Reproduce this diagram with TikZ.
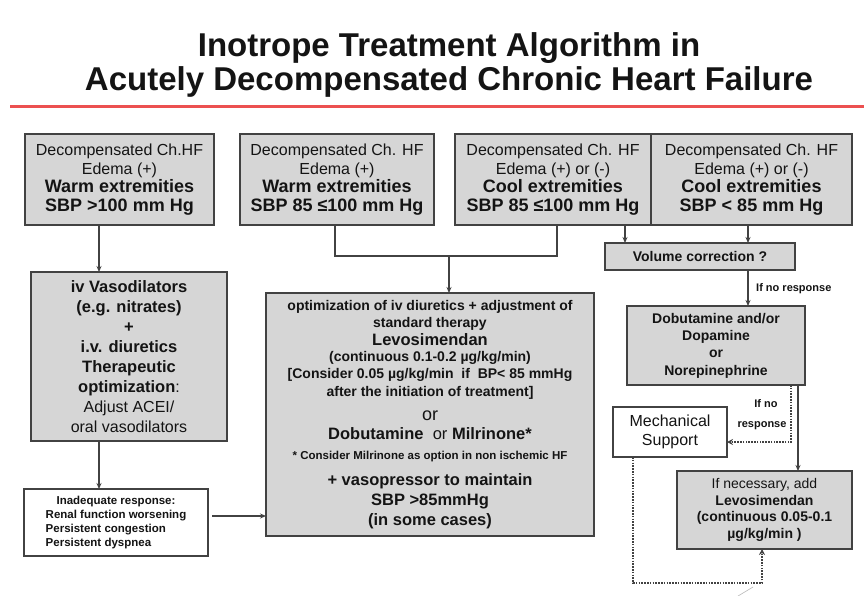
\documentclass[tikz,border=0pt]{standalone}
\usepackage{fontspec}
\setmainfont{Liberation Sans}
\usetikzlibrary{arrows.meta}
\newcommand\myfs[2]{\fontsize{#1}{#2}\selectfont}
\definecolor{boxfill}{RGB}{214,214,214}
\definecolor{boxline}{RGB}{66,66,66}
\definecolor{titlered}{RGB}{236,80,80}
\definecolor{ink}{RGB}{20,20,20}
\begin{document}
\begin{tikzpicture}[x=1pt,y=-1pt,
  box/.style={draw=boxline, line width=1.5pt, fill=boxfill, anchor=north west,
              inner sep=0pt, outer sep=0pt, align=center, text=ink},
  wbox/.style={box, fill=white, line width=1.2pt},
  conn/.style={draw=boxline, line width=1.3pt},
  arr/.style={conn, -{Stealth[length=6pt,width=5pt]}},
  dots/.style={draw=boxline, line width=2.2pt, dash pattern=on 1.6pt off 1.2pt},
  darr/.style={dots, -{Stealth[length=6pt,width=6pt]}},
  lbl/.style={font=\bfseries\myfs{11}{13}, text=ink, inner sep=0pt}]
\useasboundingbox (0,0) rectangle (864,596);
\fill[white] (0,0) rectangle (864,596);

% title
\node[font=\bfseries\myfs{33}{38}, text=ink, anchor=base, inner sep=0pt] (t1) at (449,57) {Inotrope Treatment Algorithm in};
\node[font=\bfseries\myfs{33}{38}, text=ink, anchor=base, inner sep=0pt] (t2) at (449,91) {Acutely Decompensated Chronic Heart Failure};
\draw[titlered, line width=3pt] (10,107) -- (864,107);

% top row
\node[box, minimum width=189pt, minimum height=91pt, font=\myfs{16}{18.5}] (b1) at (25,134)
  {Decompensated Ch.HF\\ Edema (+)\\ {\bfseries\myfs{18}{18.5}Warm extremities}\\ {\bfseries\myfs{18}{18.5}SBP >100 mm Hg}};
\node[box, minimum width=194pt, minimum height=91pt, font=\myfs{16}{18.5}] (b2) at (240,134)
  {Decompensated Ch. HF\\ Edema (+)\\ {\bfseries\myfs{18}{18.5}Warm extremities}\\ {\bfseries\myfs{18}{18.5}SBP 85 ≤100 mm Hg}};
\node[box, minimum width=196pt, minimum height=91pt, font=\myfs{16}{18.5}] (b3) at (455,134)
  {Decompensated Ch. HF\\ Edema (+) or (-)\\ {\bfseries\myfs{18}{18.5}Cool extremities}\\ {\bfseries\myfs{18}{18.5}SBP 85 ≤100 mm Hg}};
\node[box, minimum width=201pt, minimum height=91pt, font=\myfs{16}{18.5}] (b4) at (651,134)
  {Decompensated Ch. HF\\ Edema (+) or (-)\\ {\bfseries\myfs{18}{18.5}Cool extremities}\\ {\bfseries\myfs{18}{18.5}SBP < 85 mm Hg}};

% left column
\node[box, minimum width=196pt, minimum height=169pt, font=\myfs{16}{20}] (vaso) at (31,272)
  {{\bfseries\myfs{16.5}{20}iv Vasodilators}\\ {\bfseries\myfs{16.5}{20}(e.g. nitrates)}\\ {\bfseries\myfs{16.5}{20}+}\\
   {\bfseries\myfs{16.5}{20}i.v. diuretics}\\ {\bfseries\myfs{16.5}{20}Therapeutic}\\ {\bfseries\myfs{16.5}{20}optimization}:\\
   Adjust ACEI/\\ oral vasodilators};
\node[wbox, minimum width=184pt, minimum height=67pt, font=\bfseries\myfs{11.5}{14}] (inad) at (24,489)
  {\begin{tabular}{@{}l@{}}\multicolumn{1}{@{}c@{}}{Inadequate response:}\\ Renal function worsening\\ Persistent congestion\\ Persistent dyspnea\end{tabular}};

% main box
\node[box, minimum width=328pt, minimum height=243pt, font=\bfseries\myfs{14}{17}] (main) at (266,293)
  {optimization of iv diuretics + adjustment of\\
   standard therapy\\[1pt]
   {\myfs{16.5}{17}Levosimendan}\\[-1pt]
   (continuous 0.1-0.2 µg/kg/min)\\
   {[Consider 0.05 µg/kg/min\ \ if\ \ BP< 85 mmHg}\\[1pt]
   after the initiation of treatment]\\[7pt]
   {\mdseries\myfs{18}{17}or}\\[2pt]
   {\myfs{16.5}{17}Dobutamine\ \ {\mdseries or} Milrinone*}\\[3pt]
   {\myfs{11.5}{17}* Consider Milrinone as option in non ischemic HF}\\[9pt]
   {\myfs{16.5}{17}+ vasopressor to maintain}\\[3pt]
   {\myfs{16.5}{17}SBP >85mmHg}\\[3pt]
   {\myfs{16.5}{17}(in some cases)}};

% right column
\node[box, minimum width=190pt, minimum height=27pt, font=\bfseries\myfs{14}{17}] (vol) at (605,243) {Volume correction ?};
\node[box, minimum width=178pt, minimum height=79pt, font=\bfseries\myfs{14}{17.3}] (dob) at (627,306)
  {Dobutamine and/or\\ Dopamine\\ or\\ Norepinephrine};
\node[wbox, minimum width=114pt, minimum height=50pt, font=\myfs{16}{19}] (mech) at (613,407) {Mechanical\\ Support};
\node[box, line width=1.8pt, minimum width=175pt, minimum height=78pt, font=\myfs{14}{16.8}] (levo) at (677,471)
  {If necessary, add\\ {\bfseries Levosimendan}\\ {\bfseries (continuous 0.05-0.1}\\ {\bfseries µg/kg/min )}};

% connectors, left
\coordinate (x1) at (99,0);
\draw[arr] (b1.south -| x1) -- (vaso.north -| x1);
\draw[arr] (vaso.south -| x1) -- (inad.north -| x1);
\coordinate (y1) at (0,516);
\draw[arr, shorten <=4pt] (inad.east |- y1) -- (main.west |- y1);

% bracket to main box
\coordinate (bl) at (335,256);
\coordinate (br) at (557,256);
\coordinate (bm) at (449,256);
\draw[conn] (b2.south -| bl) -- (bl) -- (br) -- (b3.south -| br);
\draw[arr] (bm) -- (main.north -| bm);

% right column connectors
\coordinate (x3) at (625,0);
\coordinate (x4) at (748,0);
\draw[arr] (b3.south -| x3) -- (vol.north -| x3);
\draw[arr] (b4.south -| x4) -- (vol.north -| x4);
\draw[arr] (vol.south -| x4) -- (dob.north -| x4);
\node[lbl, anchor=west] (lnr) at (756,289) {If no response};

\coordinate (x5) at (798,0);
\draw[arr] (dob.south -| x5) -- (levo.north -| x5);
\coordinate (d1) at (791,442);
\draw[darr] (dob.south -| d1) -- (d1) -- (mech.east |- d1);
\node[lbl] (lno) at (766,404) {If no};
\node[lbl] (lresp) at (762,426) {response};

\coordinate (d2) at (633,583);
\coordinate (d3) at (762,583);
\draw[darr] (mech.south -| d2) -- (d2) -- (d3) -- (levo.south -| d3);

% faint decoration
\draw[gray!55, line width=0.6pt] (753,587) -- (738,596);
\end{tikzpicture}
\end{document}
